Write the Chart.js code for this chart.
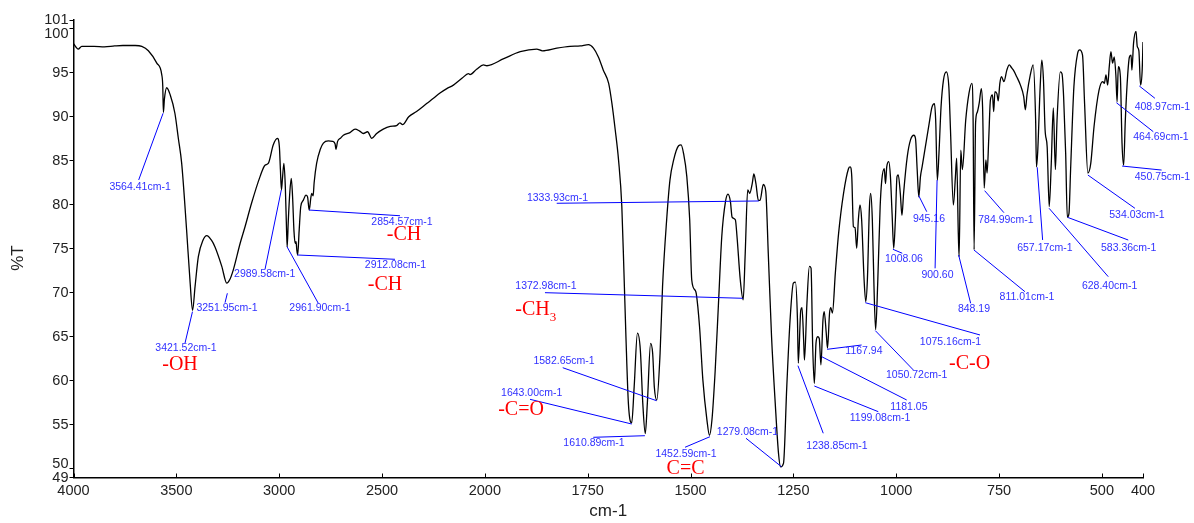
<!DOCTYPE html>
<html>
<head>
<meta charset="utf-8">
<script src="https://cdn.jsdelivr.net/npm/chart.js@4/dist/chart.umd.min.js"></script>
<style>
  html, body { margin: 0; padding: 0; background: #fff; }
  #wrap { width: 1194px; height: 523px; }
</style>
</head>
<body>
<div id="wrap"><canvas id="grafica"></canvas></div>
<script>
// spectrum (cm-1, %T)
const wavenumbers = [
  4000, 3977, 3960, 3900, 3850, 3800, 3760, 3700, 3668, 3636, 3595, 3571, 3566, 3563, 3558, 3547, 3530, 3507, 3490, 3474,
  3450, 3434, 3421, 3409, 3393, 3370, 3352, 3330, 3312, 3279, 3255, 3240, 3223, 3190, 3166, 3134, 3093, 3069, 3053, 3029,
  3009, 2999, 2994, 2989, 2984, 2977, 2970, 2964, 2961, 2956, 2948, 2941, 2935, 2928, 2922, 2918, 2914, 2910, 2903, 2895,
  2883, 2870, 2862, 2854, 2846, 2842, 2835, 2830, 2818, 2800, 2785, 2761, 2740, 2728, 2724, 2716, 2700, 2688, 2656, 2631,
  2610, 2591, 2570, 2550, 2526, 2494, 2460, 2429, 2413, 2400, 2370, 2332, 2283, 2250, 2218, 2185, 2153, 2110, 2080, 2072,
  2040, 2007, 1995, 1954, 1914, 1874, 1860, 1825, 1793, 1768, 1748, 1736, 1724, 1712, 1699, 1691, 1683, 1675, 1667, 1662,
  1657, 1651, 1643, 1637, 1629, 1622, 1616, 1610, 1605, 1597, 1592, 1588, 1582, 1574, 1568, 1558, 1550, 1541, 1529, 1523,
  1517, 1509, 1502, 1497, 1489, 1486, 1478, 1470, 1460, 1454, 1448, 1440, 1432, 1424, 1415, 1409, 1403, 1399, 1391, 1387,
  1379, 1372, 1367, 1361, 1356, 1350, 1346, 1341, 1335, 1331, 1323, 1317, 1311, 1303, 1294, 1286, 1281, 1274, 1266, 1258,
  1250, 1245, 1240, 1238, 1232, 1229, 1225, 1223, 1217, 1211, 1207, 1203, 1199, 1195, 1191, 1187, 1183, 1178, 1175, 1170,
  1167, 1162, 1159, 1155, 1148, 1140, 1128, 1116, 1112, 1108, 1104, 1100, 1096, 1092, 1088, 1084, 1078, 1074, 1070, 1065,
  1062, 1058, 1054, 1050, 1045, 1039, 1035, 1029, 1026, 1023, 1018, 1014, 1010, 1006, 1002, 998, 995, 990, 986, 982,
  973, 965, 957, 953, 949, 945, 941, 937, 929, 921, 913, 907, 904, 900, 896, 891, 885, 878, 872, 868,
  861, 856, 853, 849, 847, 843, 839, 831, 823, 816, 813, 810.6, 807, 803, 798, 793, 790, 786, 782, 779,
  775, 771, 766, 763, 760, 755, 752, 748, 744, 738, 731, 725, 720, 715, 707, 698, 690, 686, 682, 674,
  667, 661, 659, 656, 650, 646, 642, 638, 633, 628, 623, 618, 613, 609, 601, 597, 593, 588, 584, 580,
  576, 568, 559, 554, 547, 542, 534, 527, 519, 507, 498, 494, 490, 486, 482, 478, 474, 470, 466, 463,
  460, 455, 451, 447, 443, 437, 433, 429, 427, 423, 417, 414, 410, 406, 402, 400
];
const transmittance = [
  98.3, 97.7, 98.0, 98.0, 97.95, 98.05, 98.1, 98.1, 98.0, 97.5, 96.1, 94.8, 93.5, 90.5, 92.0, 93.3, 92.5, 90.4, 87.5, 84.7,
  77.1, 71.5, 68.0, 70.7, 74.1, 76.0, 76.5, 76.0, 75.2, 73.0, 71.1, 71.5, 72.6, 75.6, 77.5, 80.2, 83.2, 84.5, 84.7, 86.8,
  87.55, 86.6, 84.0, 81.7, 83.0, 84.7, 82.0, 77.0, 75.2, 78.0, 81.5, 83.0, 81.0, 77.0, 75.6, 75.8, 74.8, 74.3, 77.0, 79.8,
  80.5, 81.1, 80.9, 79.4, 80.8, 81.3, 81.0, 82.5, 84.7, 86.3, 87.0, 87.25, 87.2, 86.9, 86.3, 87.2, 87.6, 87.9, 88.2, 88.6,
  88.4, 88.1, 88.3, 87.55, 88.1, 88.6, 88.9, 89.0, 89.3, 89.1, 90.0, 90.6, 91.5, 92.1, 92.7, 93.2, 93.6, 94.4, 94.9, 94.8,
  95.4, 95.9, 95.8, 96.6, 97.4, 97.7, 97.5, 97.8, 98.0, 98.05, 98.2, 97.8, 96.8, 95.3, 93.8, 91.5, 88.5, 85.1, 79.8, 72.6,
  65.0, 57.4, 55.2, 59.3, 65.4, 63.5, 57.4, 54.0, 57.4, 64.25, 63.1, 59.3, 57.8, 63.1, 70.7, 78.3, 82.8, 85.1, 86.7, 86.8,
  85.85, 83.2, 78.3, 71.45, 70.3, 69.9, 66.1, 60.1, 55.5, 53.8, 55.5, 61.2, 68.8, 76.4, 80.35, 81.2, 80.35, 78.6, 78.3, 76.4,
  71.45, 69.2, 74.5, 81.7, 81.3, 82.4, 83.5, 82.4, 80.5, 80.5, 82.3, 81.5, 74.5, 65.0, 57.4, 51.7, 50.2, 50.6, 59.3, 66.9,
  71.1, 71.2, 66.9, 62.0, 68.0, 68.3, 64.6, 62.35, 68.8, 73.0, 72.8, 63.9, 59.7, 64.25, 65.0, 64.8, 61.8, 66.9, 67.85, 65.4,
  63.7, 67.7, 68.3, 67.7, 72.2, 76.75, 81.3, 84.1, 84.3, 83.2, 77.5, 77.4, 75.05, 78.3, 79.97, 78.3, 71.45, 69.0, 71.5, 79.8,
  81.3, 78.3, 70.7, 65.8, 71.0, 79.8, 82.8, 84.1, 82.4, 84.3, 84.9, 83.2, 79.0, 75.05, 78.3, 83.2, 83.4, 81.3, 78.8, 81.3,
  85.5, 87.4, 87.9, 87.5, 84.0, 80.9, 83.2, 84.3, 86.6, 88.9, 91.1, 91.5, 89.6, 82.8, 85.85, 91.1, 94.2, 95.1, 93.4, 88.5,
  79.97, 83.2, 85.3, 76.75, 74.1, 86.2, 84.0, 89.6, 92.7, 93.8, 89.6, 74.9, 89.3, 90.5, 91.6, 93.2, 91.1, 81.9, 85.1, 83.6,
  87.5, 91.9, 92.5, 90.6, 92.85, 92.6, 91.8, 93.8, 94.55, 94.0, 95.3, 95.9, 95.6, 95.3, 94.55, 93.6, 92.3, 90.8, 92.5, 94.75,
  95.9, 89.6, 84.3, 86.0, 93.4, 96.45, 94.2, 88.5, 86.6, 79.8, 84.7, 91.0, 84.0, 89.6, 95.1, 94.9, 92.3, 85.85, 78.6, 79.0,
  84.0, 93.4, 97.2, 97.6, 97.0, 91.5, 83.6, 84.7, 88.9, 93.0, 94.0, 93.8, 94.75, 93.6, 95.7, 97.4, 96.1, 96.8, 94.75, 91.7,
  95.7, 94.55, 87.0, 84.5, 89.6, 94.9, 96.8, 97.0, 95.3, 98.35, 99.7, 98.0, 97.5, 93.6, 95.3, 98.5
];

const xTicks = [4000, 3500, 3000, 2500, 2000, 1750, 1500, 1250, 1000, 750, 500, 400];
const yTicks = [49, 50, 55, 60, 65, 70, 75, 80, 85, 90, 95, 100, 101];

// peak labels: text, wavenumber, %T where the pointer starts
const peakTexts = ['3564.41cm-1', '3421.52cm-1', '3251.95cm-1', '2989.58cm-1', '2961.90cm-1', '2912.08cm-1', '2854.57cm-1',
  '1333.93cm-1', '1372.98cm-1', '1582.65cm-1', '1643.00cm-1', '1610.89cm-1', '1452.59cm-1', '1279.08cm-1', '1238.85cm-1',
  '1199.08cm-1', '1181.05', '1167.94', '1075.16cm-1', '1050.72cm-1', '1008.06', '945.16', '900.60', '848.19',
  '811.01cm-1', '784.99cm-1', '657.17cm-1', '628.40cm-1', '583.36cm-1', '534.03cm-1', '450.75cm-1', '464.69cm-1', '408.97cm-1'];
const peakWn = [3564.41, 3421.52, 3251.95, 2989.58, 2961.90, 2912.08, 2854.57,
  1333.93, 1372.98, 1582.65, 1643.00, 1610.89, 1452.59, 1279.08, 1238.85,
  1199.08, 1181.05, 1167.94, 1075.16, 1050.72, 1008.06, 945.16, 900.60, 848.19,
  811.01, 784.99, 657.17, 628.40, 583.36, 534.03, 450.75, 464.69, 408.97];
const peakT = [90.4, 67.85, 69.94, 81.68, 75.23, 74.29, 79.4,
  80.43, 69.37, 57.73, 55.08, 53.75, 53.64, 50.23, 61.71,
  59.4, 62.73, 63.57, 68.87, 65.69, 74.94, 81.03, 82.81, 74.29,
  74.86, 81.6, 84.26, 79.6, 78.57, 83.38, 84.4, 91.6, 93.5];
// pointer end and text centre, in px from the peak
const peakOffsets = [
  [-24.4, 66.7, -23, 73.7], [-7.5, 31.6, -6.5, 36.6], [-2.3, 9.4, -0.3, 15], [-16.3, 79.3, -16.6, 84.3],
  [31.3, 56.6, 33, 61.6], [97.7, 4.3, 98.2, 10], [90.9, 5.7, 92.9, 11.7],
  [-202.1, 2.3, -201.3, -2.7], [-197.8, -5.6, -196.8, -12.3], [-93.8, -33, -92.5, -39.7], [-101.7, -24.7, -100, -31.3],
  [-51.6, 1.6, -50.9, 7.6], [-25, 10.6, -24, 17.3], [-35.4, -28.4, -33.9, -34.4], [25.3, 67.6, 39, 80.3],
  [64, 25.7, 65.7, 32.3], [85, 43.3, 87.2, 50], [34.5, -4.3, 36.8, 1.7], [114.7, 32.3, 85.2, 39], [38, 39.3, 41.3, 44.3],
  [9.4, 4, 11.1, 10], [8, 16, 10.2, 23.6], [-2, 88.3, 0.4, 95], [12, 48.3, 15.3, 53.7],
  [51, 41.7, 53, 47.3], [19.3, 22, 21.3, 29.3], [5.4, 72.7, 7.7, 81], [59.2, 68.4, 60.6, 77.7], [60.7, 22.7, 61.1, 31],
  [47.1, 33.3, 49.1, 40], [39.5, 4, 40.3, 10.7], [36.9, 29, 44.6, 34], [15.6, 12.3, 23.1, 21.3]
];

// group names in red: text, subscript, position (cm-1, %T)
const groupTexts = ['-OH', '-CH', '-CH', '-CH', '-C=O', 'C=C', '-C-O'];
const groupSubs = ['', '', '', '3', '', '', ''];
const groupWn = [3482, 2393, 2485, 1884, 1912, 1512, 821.7];
const groupT = [61.8, 76.56, 70.88, 68.04, 56.67, 50.04, 61.98];

const BREAK = 2000;
const sansFont = '"Liberation Sans", Arial, sans-serif';
const serifFont = '"Liberation Serif", "Times New Roman", serif';

// x axis of an IR spectrum: below 2000 cm-1 the scale is twice as wide
class WaveScale extends Chart.LinearScale {
  static id = 'wave';
  static defaults = Chart.LinearScale.defaults;

  toDecimal(v) {
    const hi = this.max, lo = this.min;
    const u = v >= BREAK ? hi - v : (hi - BREAK) + (BREAK - v) * 2;
    return u / ((hi - BREAK) + (BREAK - lo) * 2);
  }
  getPixelForValue(v) {
    if (v === null || v === undefined) return NaN;
    return this.getPixelForDecimal(this.toDecimal(v));
  }
  getValueForPixel(p) {
    const hi = this.max, lo = this.min;
    const u = this.getDecimalForPixel(p) * ((hi - BREAK) + (BREAK - lo) * 2);
    return u <= hi - BREAK ? hi - u : BREAK - (u - (hi - BREAK)) / 2;
  }
  buildTicks() {
    return xTicks.map(v => ({ value: v }));
  }
}
Chart.register(WaveScale);

// these two labels are pushed away from 101 / 49
const yNudge = { 100: 5.5, 50: -5 };

const notas = {
  id: 'notas',
  afterDraw(chart) {
    const { ctx, scales: { x, y }, chartArea } = chart;
    ctx.save();

    // x tick marks point into the plot
    ctx.strokeStyle = '#000';
    ctx.lineWidth = 1;
    xTicks.forEach(v => {
      const px = Math.round(x.getPixelForValue(v)) + 0.5;
      ctx.beginPath();
      ctx.moveTo(px, chartArea.bottom);
      ctx.lineTo(px, chartArea.bottom - 4);
      ctx.stroke();
    });

    ctx.fillStyle = '#222';
    ctx.font = '14.5px ' + sansFont;
    ctx.textAlign = 'right';
    ctx.textBaseline = 'middle';
    Object.keys(yNudge).forEach(k => {
      ctx.fillText(k, chartArea.left - 5, y.getPixelForValue(Number(k)) + yNudge[k]);
    });

    // %T title
    ctx.save();
    ctx.translate(18, 258);
    ctx.rotate(-Math.PI / 2);
    ctx.textAlign = 'center';
    ctx.font = '17px ' + sansFont;
    ctx.fillText('%T', 0, 0);
    ctx.restore();

    // peak pointers
    ctx.font = '10.5px ' + sansFont;
    ctx.textAlign = 'center';
    ctx.textBaseline = 'middle';
    peakTexts.forEach((txt, i) => {
      const [ex, ey, lx, ly] = peakOffsets[i];
      const px = x.getPixelForValue(peakWn[i]);
      const py = y.getPixelForValue(peakT[i]);
      ctx.strokeStyle = '#0000ff';
      ctx.beginPath();
      ctx.moveTo(px, py);
      ctx.lineTo(px + ex, py + ey);
      ctx.stroke();
      ctx.fillStyle = '#3030ff';
      ctx.fillText(txt, px + lx, py + ly);
    });

    // group names
    ctx.fillStyle = '#ff0000';
    groupTexts.forEach((txt, i) => {
      const px = x.getPixelForValue(groupWn[i]);
      const py = y.getPixelForValue(groupT[i]);
      ctx.font = '20px ' + serifFont;
      ctx.textAlign = 'center';
      ctx.fillText(txt, px, py);
      if (groupSubs[i]) {
        const w = ctx.measureText(txt).width;
        ctx.font = '13px ' + serifFont;
        ctx.textAlign = 'left';
        ctx.fillText(groupSubs[i], px + w / 2, py + 8);
      }
    });
    ctx.restore();
  }
};

const puntos = wavenumbers.map((w, i) => ({ x: w, y: transmittance[i] }));

new Chart(document.getElementById('grafica'), {
  type: 'line',
  data: {
    datasets: [{
      data: puntos,
      borderColor: '#000',
      borderWidth: 1.3,
      pointRadius: 0,
      cubicInterpolationMode: 'monotone',
      fill: false
    }]
  },
  options: {
    responsive: true,
    maintainAspectRatio: false,
    animation: false,
    layout: { padding: { top: 20, right: 51, bottom: 0, left: 0 } },
    plugins: { legend: { display: false }, tooltip: { enabled: false } },
    scales: {
      x: {
        type: 'wave',
        min: 400,
        max: 4000,
        grid: { display: false, drawTicks: false },
        border: { display: true, color: '#000', width: 1.5 },
        ticks: {
          autoSkip: false,
          maxRotation: 0,
          padding: 5,
          color: '#222',
          font: { family: sansFont, size: 14.5 },
          callback: v => String(v)
        },
        title: {
          display: true,
          text: 'cm-1',
          color: '#222',
          font: { family: sansFont, size: 17 },
          padding: { top: 0, bottom: 1 }
        },
        afterFit: s => { s.height = 45.5; }
      },
      y: {
        min: 49,
        max: 101,
        afterBuildTicks: s => { s.ticks = yTicks.map(v => ({ value: v })); },
        grid: { drawOnChartArea: false, drawTicks: true, tickLength: 4, color: '#000' },
        border: { display: true, color: '#000', width: 1.5 },
        ticks: {
          autoSkip: false,
          padding: 1,
          color: '#222',
          font: { family: sansFont, size: 14.5 },
          callback: v => (v in yNudge ? '' : String(v))
        },
        afterFit: s => { s.width = 73.5; }
      }
    }
  },
  plugins: [notas]
});
</script>
</body>
</html>
